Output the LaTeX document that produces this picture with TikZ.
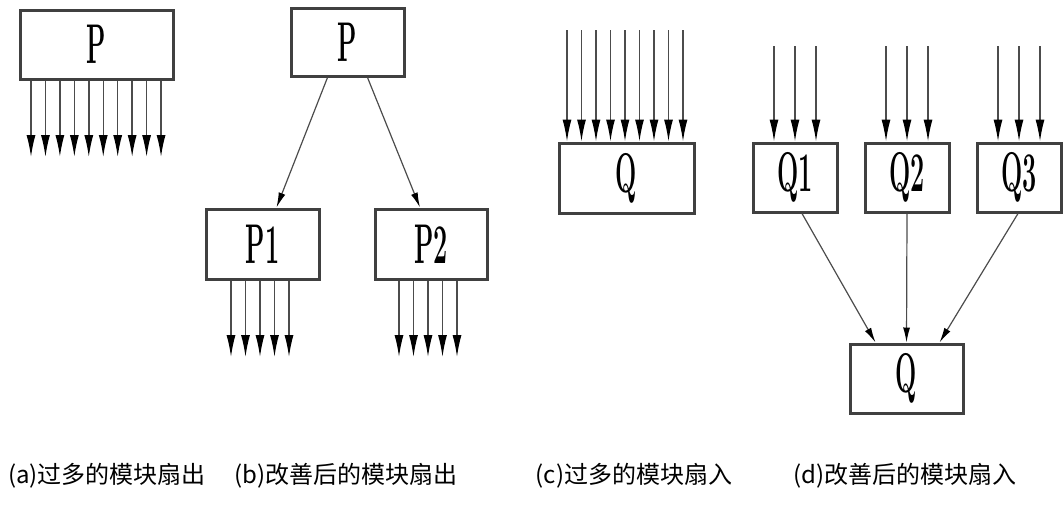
\documentclass[tikz,border=0pt]{standalone}
\usepackage{fontspec}
\usepackage{graphicx}
\newfontfamily\cjk{Noto Sans CJK SC}
\usetikzlibrary{arrows.meta}

\tikzset{
	modbox/.style={draw=black!75, line width=3pt, fill=white, inner sep=0pt,
		font=\fontsize{56}{56}\selectfont\bfseries},
	fanline/.style={draw=black!70, line width=1.4pt,
		-{Latex[length=22pt,width=9pt,color=black]}},
	callline/.style={draw=black!70, line width=1.2pt,
		-{Latex[length=15pt,width=7pt,color=black]}},
	caption/.style={font=\cjk\fontsize{24}{24}\selectfont}
}
\newcommand{\narrow}[1]{\scalebox{0.45}[1]{#1}}

\begin{document}
\begin{tikzpicture}[x=1pt,y=-1pt]

	\useasboundingbox (0,0) rectangle (1064,520);

	% (a) fan-out too large
	\node[modbox,minimum width=153pt,minimum height=69pt] (Pa) at (96.5,44.5) {\narrow{P}};
	\foreach \i in {0,...,9}{
		\coordinate (a\i) at (31+\i*14.45,157);
		\draw[fanline] (Pa.south -| a\i) -- (a\i);
	}

	% (b) improved fan-out
	\node[modbox,minimum width=113pt,minimum height=68pt] (Pb) at (347.5,42) {\narrow{P}};
	\node[modbox,minimum width=113pt,minimum height=70pt] (P1) at (262.5,244) {\narrow{P1}};
	\node[modbox,minimum width=112pt,minimum height=70pt] (P2) at (431,244) {\narrow{P2}};
	\draw[callline] ([xshift=-20pt]Pb.south) -- ([xshift=14pt]P1.north);
	\draw[callline] ([xshift=20pt]Pb.south) -- ([xshift=-11pt]P2.north);
	\foreach \i in {0,...,4}{
		\coordinate (b\i) at (231+\i*14.5,357);
		\coordinate (c\i) at (399+\i*14.5,357);
		\draw[fanline] (P1.south -| b\i) -- (b\i);
		\draw[fanline] (P2.south -| c\i) -- (c\i);
	}

	% (c) fan-in too large
	\node[modbox,minimum width=135pt,minimum height=70pt] (Qc) at (626.5,178) {\narrow{Q}};
	\foreach \i in {0,...,8}{
		\coordinate (q\i) at (567+\i*14.5,30);
		\draw[fanline] (q\i) -- (q\i |- Qc.north);
	}

	% (d) improved fan-in
	\node[modbox,minimum width=84pt,minimum height=69pt] (Q1) at (795,177.5) {\narrow{Q1}};
	\node[modbox,minimum width=84pt,minimum height=69pt] (Q2) at (907,177.5) {\narrow{Q2}};
	\node[modbox,minimum width=84pt,minimum height=69pt] (Q3) at (1019,177.5) {\narrow{Q3}};
	\node[modbox,minimum width=113pt,minimum height=69pt] (Qd) at (906.5,378.5) {\narrow{Q}};
	\foreach \n in {1,2,3}{
		\foreach \d in {-21,0,21}{
			\coordinate (t\n\d) at ([xshift=\d pt]Q\n.north |- 0,46);
			\draw[fanline] (t\n\d) -- (t\n\d |- Q\n.north);
		}
	}
	\draw[callline] ([xshift=7pt]Q1.south) -- ([xshift=-31pt]Qd.north);
	\draw[callline] (Q2.south) -- (Qd.north);
	\draw[callline] ([xshift=-1pt]Q3.south) -- ([xshift=33pt]Qd.north);

	% captions
	\node[caption] (capa) at (107,476) {(a)过多的模块扇出};
	\node[caption] (capb) at (346,476) {(b)改善后的模块扇出};
	\node[caption] (capc) at (634,476) {(c)过多的模块扇入};
	\node[caption] (capd) at (905,476) {(d)改善后的模块扇入};

\end{tikzpicture}
\end{document}
